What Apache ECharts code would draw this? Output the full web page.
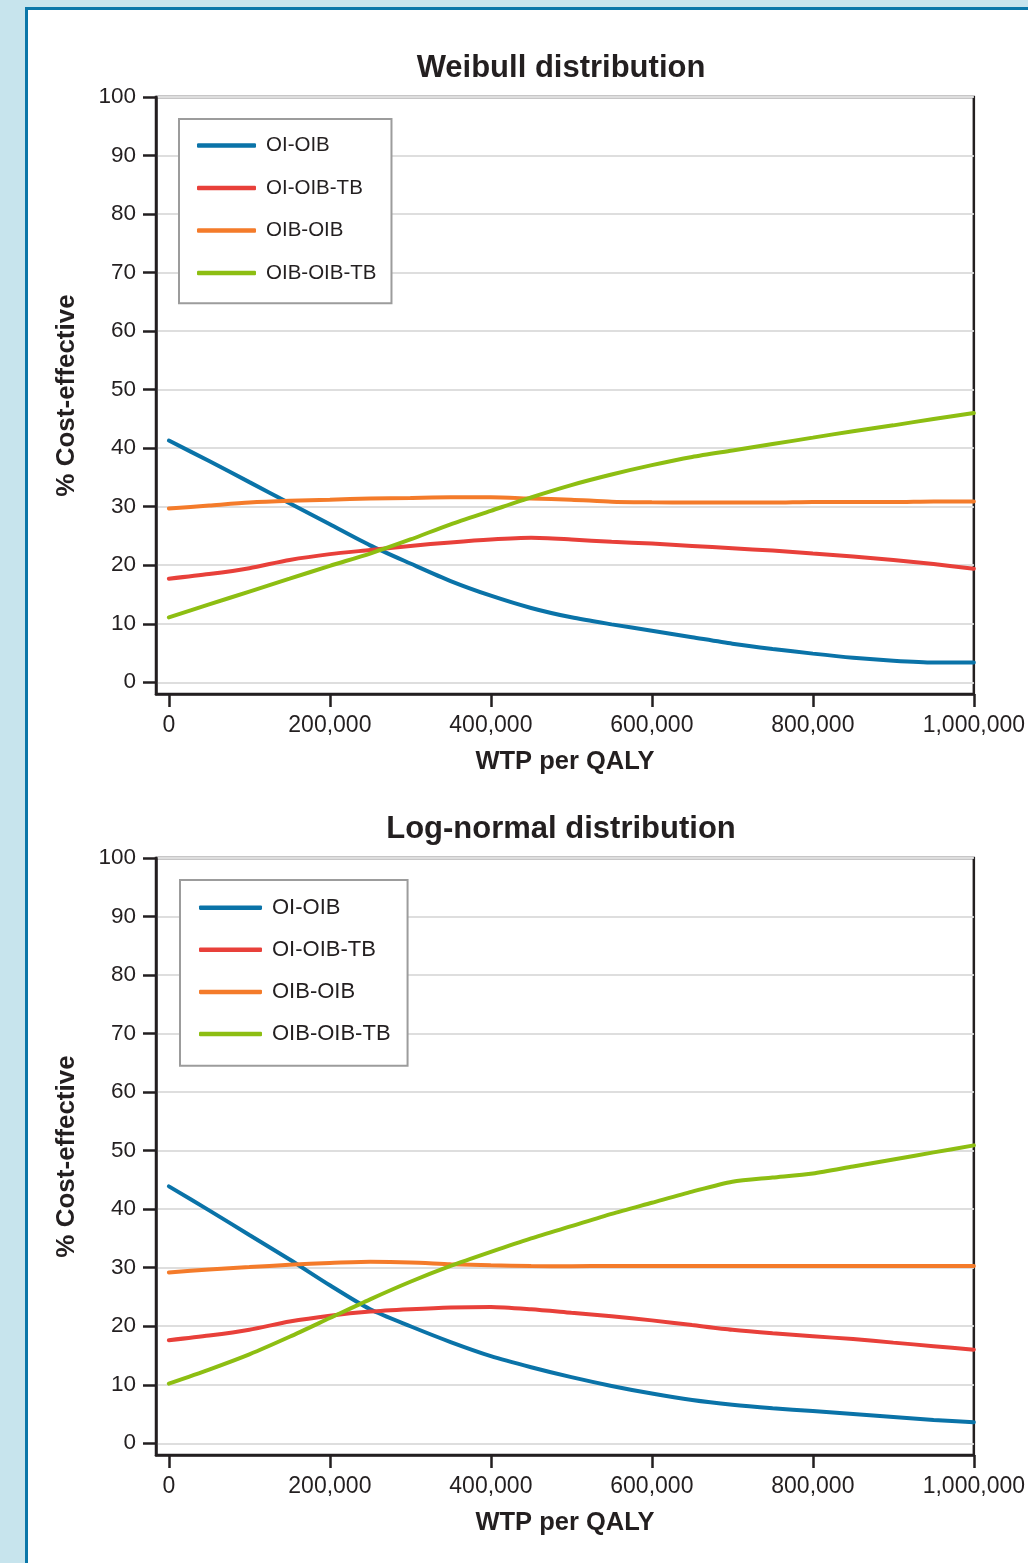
<!DOCTYPE html>
<html>
<head>
<meta charset="utf-8">
<script src="https://cdn.jsdelivr.net/npm/echarts@6/dist/echarts.min.js"></script>
<style>
  html, body { margin: 0; padding: 0; width: 1028px; height: 1563px; overflow: hidden; background: #c7e4ed; }
  #panel { position: absolute; left: 25px; top: 7px; width: 1100px; height: 1700px; background: #ffffff; border: 3px solid #0b77a9; }
  #chart { position: absolute; left: 0; top: 0; width: 1028px; height: 1563px; }
</style>
</head>
<body>
<div id="panel"></div>
<div id="chart"></div>
<script>
// ---- data ----
const wtp = [0, 50000, 100000, 150000, 200000, 250000, 300000, 350000, 400000, 450000, 500000,
             550000, 600000, 650000, 700000, 750000, 800000, 850000, 900000, 950000, 1000000];
const seriesNames = ['OI-OIB', 'OI-OIB-TB', 'OIB-OIB', 'OIB-OIB-TB'];
const titles = ['Weibull distribution', 'Log-normal distribution'];

// Weibull distribution
const weibullOIOIB    = [41.3, 37.8, 34.2, 30.6, 27.0, 23.4, 20.3, 17.3, 14.8, 12.7, 11.1, 9.9, 8.8, 7.7, 6.6, 5.7, 4.9, 4.2, 3.7, 3.4, 3.4];
const weibullOIOIBTB  = [17.7, 18.5, 19.5, 20.9, 21.9, 22.6, 23.3, 23.9, 24.4, 24.7, 24.4, 24.0, 23.7, 23.3, 22.9, 22.5, 22.0, 21.5, 20.9, 20.2, 19.4];
const weibullOIBOIB   = [29.7, 30.2, 30.7, 31.0, 31.2, 31.4, 31.5, 31.6, 31.6, 31.4, 31.2, 30.85, 30.75, 30.7, 30.7, 30.7, 30.8, 30.8, 30.8, 30.9, 30.9];
const weibullOIBOIBTB = [11.1, 13.3, 15.5, 17.7, 19.9, 22.0, 24.4, 27.0, 29.3, 31.6, 33.7, 35.5, 37.1, 38.5, 39.6, 40.7, 41.8, 42.9, 43.9, 45.0, 46.0];

// Log-normal distribution
const lognormOIOIB    = [43.9, 39.8, 35.6, 31.4, 27.0, 22.9, 20.0, 17.3, 14.9, 13.0, 11.3, 9.8, 8.5, 7.4, 6.6, 6.0, 5.5, 5.0, 4.5, 4.0, 3.6];
const lognormOIOIBTB  = [17.6, 18.4, 19.4, 20.8, 21.8, 22.5, 22.9, 23.2, 23.3, 22.9, 22.3, 21.7, 21.0, 20.2, 19.4, 18.8, 18.3, 17.8, 17.2, 16.6, 16.0];
const lognormOIBOIB   = [29.2, 29.7, 30.1, 30.5, 30.8, 31.0, 30.9, 30.6, 30.4, 30.3, 30.25, 30.3, 30.3, 30.3, 30.3, 30.3, 30.3, 30.3, 30.3, 30.3, 30.3];
const lognormOIBOIBTB = [10.2, 12.6, 15.2, 18.2, 21.4, 24.6, 27.6, 30.3, 32.7, 35.0, 37.1, 39.2, 41.1, 43.0, 44.7, 45.4, 46.1, 47.3, 48.5, 49.7, 50.9];

const xTicks = [0, 200000, 400000, 600000, 800000, 1000000];
const yTicks = [0, 10, 20, 30, 40, 50, 60, 70, 80, 90, 100];
const xName = 'WTP per QALY';
const yName = '% Cost-effective';

// ---- styling ----
const colors = ['#0a73a8', '#e8403a', '#f47b2a', '#8dbe12'];
const ink = '#231f20';
const FONT = "'Liberation Sans', Arial, Helvetica, sans-serif";

const panels = [
  { data: [weibullOIOIB, weibullOIOIBTB, weibullOIBOIB, weibullOIBOIBTB], top: 97, titleY: 52.5,
    legend: { left: 179, top: 119, pad: [16, 15, 19.7, 18], w: 59, gap: 21.5, fs: 20.5, tp: 5 } },
  { data: [lognormOIOIB, lognormOIOIBTB, lognormOIBOIB, lognormOIBOIBTB], top: 858, titleY: 813.5,
    legend: { left: 180, top: 880, pad: [16.7, 17, 20.7, 19], w: 63, gap: 20.1, fs: 22, tp: 5 } }
];

const option = {
  animation: false,
  backgroundColor: 'transparent',
  title: [], grid: [], xAxis: [], yAxis: [], legend: [], series: []
};

panels.forEach((p, i) => {
  option.title.push({
    text: titles[i], left: 561, top: p.titleY, textAlign: 'center', padding: 0,
    textStyle: { fontFamily: FONT, fontSize: 31, fontWeight: 'bold', color: ink }
  });
  option.grid.push({
    left: 156, width: 819, top: p.top, height: 597,
    show: true, borderColor: ink, borderWidth: 2.5, backgroundColor: 'transparent'
  });
  option.xAxis.push({
    type: 'value', gridIndex: i, min: -16000, max: 1000000,
    name: xName, nameLocation: 'middle', nameGap: 55,
    nameTextStyle: { fontFamily: FONT, fontSize: 25.5, fontWeight: 'bold', color: ink },
    axisLine: { show: true, onZero: false, lineStyle: { color: ink, width: 2.5 } },
    axisTick: { show: true, inside: false, length: 13, customValues: xTicks, lineStyle: { color: ink, width: 2.5 } },
    axisLabel: { customValues: xTicks, margin: 20, fontFamily: FONT, fontSize: 23, color: ink,
                 formatter: v => Number(v).toLocaleString('en-US') },
    splitLine: { show: false }
  });
  option.yAxis.push({
    type: 'value', gridIndex: i, min: -2, max: 100,
    name: yName, nameLocation: 'middle', nameGap: 76, nameRotate: 90,
    nameTextStyle: { fontFamily: FONT, fontSize: 26, fontWeight: 'bold', color: ink },
    axisLine: { show: true, onZero: false, lineStyle: { color: ink, width: 2.5 } },
    axisTick: { show: true, inside: false, length: 13, customValues: yTicks, lineStyle: { color: ink, width: 2.5 } },
    axisLabel: { customValues: yTicks, margin: 20, fontFamily: FONT, fontSize: 22.5, color: ink },
    splitLine: { show: true, lineStyle: { color: '#dedede', width: 2 } }
  });
  const L = p.legend;
  option.legend.push({
    data: seriesNames.map(n => ({ name: n, icon: 'roundRect' })),
    orient: 'vertical', left: L.left, top: L.top,
    padding: L.pad, itemWidth: L.w, itemHeight: 4.5, itemGap: L.gap,
    backgroundColor: '#ffffff', borderColor: '#9c9c9c', borderWidth: 2,
    selectedMode: false,
    textStyle: { fontFamily: FONT, fontSize: L.fs, color: ink, lineHeight: 20, padding: [0, 0, 0, L.tp] }
  });
  seriesNames.forEach((name, k) => {
    option.series.push({
      type: 'line', name: name, xAxisIndex: i, yAxisIndex: i,
      data: wtp.map((x, j) => [x, p.data[k][j]]),
      showSymbol: false, symbol: 'none', smooth: 0.25,
      color: colors[k],
      itemStyle: { color: colors[k] },
      lineStyle: { color: colors[k], width: 4, cap: 'round' },
      z: 3
    });
  });
});

const chart = echarts.init(document.getElementById('chart'), null, { renderer: 'canvas' });
chart.setOption(option);
</script>
</body>
</html>
